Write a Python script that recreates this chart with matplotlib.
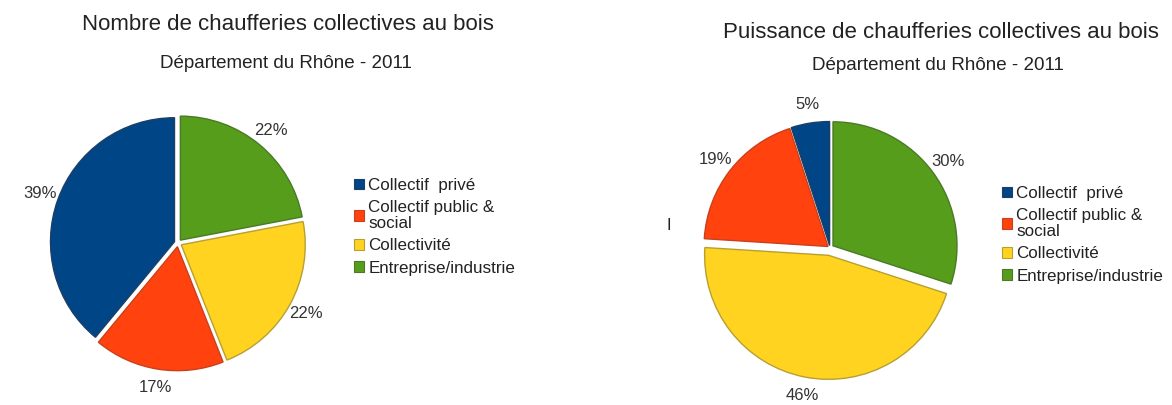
import matplotlib
matplotlib.use('Agg')
import matplotlib.pyplot as plt
from matplotlib.patches import Patch

plt.rcParams['font.family'] = ['Liberation Sans', 'DejaVu Sans']

# data
categories = ['Collectif  privé', 'Collectif public &\nsocial', 'Collectivité', 'Entreprise/industrie']
nombre = [39, 17, 22, 22]
puissance = [5, 19, 46, 30]
colors = ['#004586', '#ff420e', '#ffd320', '#579d1c']
edges = ['#1d3f66', '#c8411c', '#b8a030', '#4a7a26']

W, H = 1172, 405
fig = plt.figure(figsize=(W / 100, H / 100), dpi=100)
fig.patch.set_facecolor('white')

R = 124
LIM = 1.3


def pie_axes(cx, cy):
    half = R * LIM
    return fig.add_axes([(cx - half) / W, 1 - (cy + half) / H, 2 * half / W, 2 * half / H])


def draw_pie(ax, values, explode):
    wedges, texts, autotexts = ax.pie(
        values, colors=colors, explode=explode, startangle=90, counterclock=True,
        autopct='%d%%', pctdistance=1.15, radius=1,
        wedgeprops=dict(linewidth=1.0),
        textprops=dict(fontsize=12, color='#333333'))
    for w, e in zip(wedges, edges):
        w.set_edgecolor(e)
    ax.set_xlim(-LIM, LIM)
    ax.set_ylim(-LIM, LIM)
    ax.set_aspect('equal')
    ax.axis('off')


ax1 = pie_axes(178, 243)
draw_pie(ax1, nombre, [0.03, 0.03, 0.03, 0.03])

ax2 = pie_axes(830, 248)
draw_pie(ax2, puissance, [0.02, 0.02, 0.06, 0.03])

# titles
fig.text(288 / W, 1 - 25 / H, 'Nombre de chaufferies collectives au bois',
         ha='center', va='center', fontsize=16, color='#222222')
fig.text(286 / W, 1 - 64 / H, 'Département du Rhône - 2011',
         ha='center', va='center', fontsize=13.5, color='#222222')
fig.text(941 / W, 1 - 32 / H, 'Puissance de chaufferies collectives au bois',
         ha='center', va='center', fontsize=16, color='#222222')
fig.text(938 / W, 1 - 65 / H, 'Département du Rhône - 2011',
         ha='center', va='center', fontsize=13.5, color='#222222')
fig.text(669 / W, 1 - 225 / H, 'I', ha='center', va='center', fontsize=12, color='#222222')

handles = [Patch(facecolor=c, edgecolor=e, linewidth=0.8) for c, e in zip(colors, edges)]
for x, y in [(354, 178), (1002, 186)]:
    leg = fig.legend(handles, categories, loc='upper left', bbox_to_anchor=(x / W, 1 - y / H),
                     frameon=False, fontsize=12.25, handlelength=0.6, handleheight=0.6,
                     handletextpad=0.25, labelspacing=0.42, borderaxespad=0, borderpad=0)
    for t in leg.get_texts():
        t.set_linespacing(1.1)
        t.set_color('#222222')

fig.savefig('out.png', dpi=100, facecolor='white')
